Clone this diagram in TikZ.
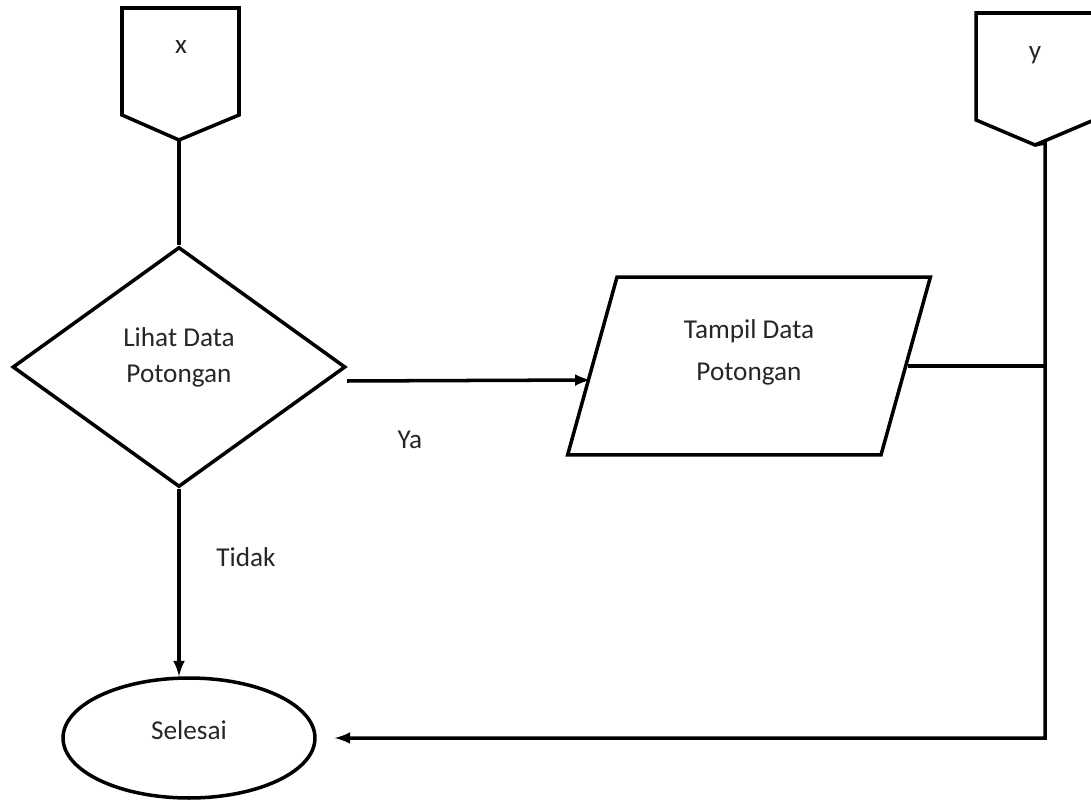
\documentclass[tikz,border=0pt]{standalone}
\usepackage{fontspec}
\setmainfont{Carlito}
\usetikzlibrary{shapes.geometric}

\begin{document}
\begin{tikzpicture}[x=0.02cm, y=-0.02cm, line width=2pt,
	every node/.append style={text=black!85, font=\fontsize{15.5}{20.4}\selectfont, align=center},
	every label/.append style={text=black!85, align=center},
	decision/.style={diamond, draw, minimum width=6.66cm, minimum height=4.8cm, inner sep=0pt, aspect=1.39},
	io/.style={trapezium, trapezium left angle=79.4, trapezium right angle=100.6, draw, minimum width=7.26cm, minimum height=3.56cm, trapezium stretches=true},
	terminal/.style={ellipse, draw, minimum width=5.04cm, minimum height=2.4cm}]
\useasboundingbox (0,0) rectangle (1091,800);
	% off-page connectors
	\draw (122,8) -- (239,8) -- (239,115) -- (179,140) coordinate (xtip) -- (122,115) -- cycle;
	\node (xlbl) at (181,47) {x};
	\draw (976,13) -- (1094,13) -- (1094,120) -- (1035,145) coordinate (ytip) -- (976,120) -- cycle;
	\node (ylbl) at (1035,55) {y};
	\coordinate (ycol) at (1045,143);

	\node[decision, label={[yshift=0.2cm, font=\fontsize{15.5}{20.4}\selectfont]center:Lihat Data\\Potongan}] (lihat) at (179,367) {};
	\node[io, label={[yshift=0.28cm, font=\fontsize{15.5}{23.8}\selectfont]center:Tampil Data\\Potongan}] (tampil) at (749,366) {};
	\node[terminal, label={[yshift=0.16cm]center:Selesai}] (selesai) at (189,738) {};

	\draw (xtip) -- (lihat.north);
	\draw[-latex] ([yshift=-0.28cm]lihat.east) -- ([yshift=-0.28cm]tampil.west);
	\node (ya) at (410,440) {Ya};
	\draw (tampil.east) -- (tampil.east -| ycol);
	\draw[-latex, shorten >=0.36cm] (ytip) -- (ycol) -- (ycol |- selesai.east) -- (selesai.east);
	\draw[-latex] (lihat.south) -- (lihat.south |- selesai.north);
	\node (tidak) at (246,557) {Tidak};
\end{tikzpicture}
\end{document}
